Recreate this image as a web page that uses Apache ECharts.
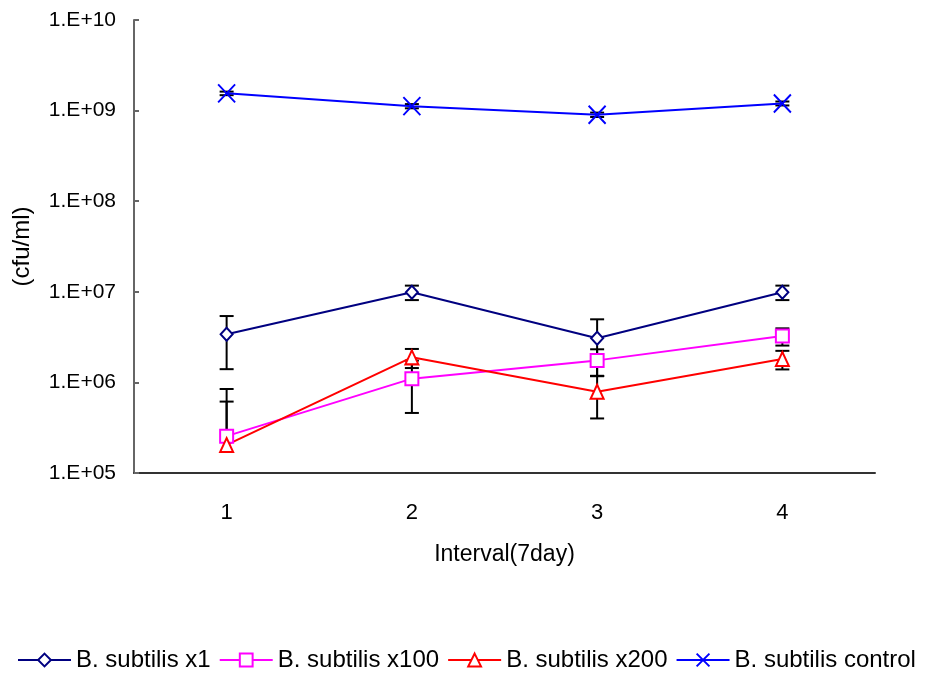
<!DOCTYPE html>
<html>
<head>
<meta charset="utf-8">
<script src="https://cdn.jsdelivr.net/npm/echarts@6/dist/echarts.min.js"></script>
<style>
  html, body { margin: 0; padding: 0; background: #fff; }
  #chart { width: 927px; height: 680px; }
</style>
</head>
<body>
<div id="chart"></div>
<script>
// 数据
var categories = ["1", "2", "3", "4"];
var x1 = [3.4e6, 9.9e6, 3.07e6, 9.9e6];
var x1Err = [2.0e6, 1.8e6, 1.9e6, 1.8e6];
var x100 = [2.55e5, 1.1e6, 1.75e6, 3.25e6];
var x100Err = [5.9e5, 6.4e5, 5.7e5, 7.0e5];
var x200 = [2.04e5, 1.89e6, 7.9e5, 1.81e6];
var x200Err = [4.1e5, 4.5e5, 3.9e5, 4.2e5];
var control = [1.55e9, 1.12e9, 0.9e9, 1.2e9];
var controlErr = [0.07e9, 0.06e9, 0.05e9, 0.06e9];

var FONT = "'Liberation Sans', Arial, sans-serif";

function errData(vals, errs) {
  return vals.map(function (v, i) {
    return [i, v, v - errs[i], v + errs[i]];
  });
}

// 误差线
function renderErr(params, api) {
  var x = api.value(0);
  var hi = api.coord([x, api.value(3)]);
  var mid = api.coord([x, api.value(1)]);
  var lowVal = api.value(2);
  var cap = 7;
  var style = { stroke: "#000", lineWidth: 2 };
  var children = [
    { type: "line", shape: { x1: hi[0], y1: hi[1], x2: mid[0], y2: mid[1] }, style: style },
    { type: "line", shape: { x1: hi[0] - cap, y1: hi[1], x2: hi[0] + cap, y2: hi[1] }, style: style }
  ];
  if (lowVal > 0) {
    var lo = api.coord([x, lowVal]);
    children.push({ type: "line", shape: { x1: mid[0], y1: mid[1], x2: lo[0], y2: lo[1] }, style: style });
    children.push({ type: "line", shape: { x1: lo[0] - cap, y1: lo[1], x2: lo[0] + cap, y2: lo[1] }, style: style });
  }
  return { type: "group", children: children };
}

function errSeries(vals, errs) {
  return {
    type: "custom",
    renderItem: renderErr,
    data: errData(vals, errs),
    encode: { x: 0, y: [2, 3] },
    z: 1,
    silent: true,
    legendHoverLink: false
  };
}

function lineSeries(name, data, color, symbol, size) {
  return {
    name: name,
    type: "line",
    data: data,
    color: color,
    symbol: symbol,
    symbolSize: size,
    showAllSymbol: true,
    lineStyle: { color: color, width: 2 },
    itemStyle: { color: "#fff", borderColor: color, borderWidth: 2 },
    z: 3
  };
}

var chart = echarts.init(document.getElementById("chart"));
var ctrl = lineSeries("B. subtilis control", control, "#0000FF", "path://M0,0L10,10M10,0L0,10", [17, 18]);
ctrl.itemStyle = { color: "none", borderColor: "#0000FF", borderWidth: 2 };

chart.setOption({
  backgroundColor: "#fff",
  animation: false,
  textStyle: { fontFamily: FONT },
  grid: { left: 134, right: 52, top: 20, bottom: 207, outerBoundsMode: "none", containLabel: false },
  legend: {
    bottom: 3,
    left: 12,
    itemWidth: 53,
    itemHeight: 16,
    itemGap: 8,
    textStyle: { fontFamily: FONT, fontSize: 24, color: "#000" },
    data: ["B. subtilis x1", "B. subtilis x100", "B. subtilis x200", "B. subtilis control"]
  },
  xAxis: {
    type: "category",
    data: categories,
    boundaryGap: true,
    name: "Interval(7day)",
    nameLocation: "middle",
    nameGap: 70,
    nameTextStyle: { fontFamily: FONT, fontSize: 23, color: "#000" },
    axisLine: { lineStyle: { color: "#333", width: 2 } },
    axisTick: { inside: true, length: 7, lineStyle: { color: "#333", width: 2 } },
    axisLabel: { margin: 29, fontSize: 22, color: "#000", fontFamily: FONT },
    splitLine: { show: false }
  },
  yAxis: {
    type: "log",
    logBase: 10,
    min: 1e5,
    max: 1e10,
    name: "(cfu/ml)",
    nameLocation: "middle",
    nameRotate: 90,
    nameGap: 100,
    nameTextStyle: { fontFamily: FONT, fontSize: 24, color: "#000" },
    axisLine: { show: true, lineStyle: { color: "#666", width: 2 } },
    axisTick: { show: true, inside: true, length: 5, lineStyle: { color: "#666", width: 2 } },
    axisLabel: {
      margin: 18,
      fontSize: 21,
      color: "#000",
      fontFamily: FONT,
      formatter: function (v) {
        var e = Math.round(Math.log10(v));
        return "1.E+" + (e < 10 ? "0" + e : e);
      }
    },
    splitLine: { show: false }
  },
  series: [
    errSeries(x1, x1Err),
    errSeries(x100, x100Err),
    errSeries(x200, x200Err),
    errSeries(control, controlErr),
    lineSeries("B. subtilis x1", x1, "#000080", "diamond", [12, 13]),
    lineSeries("B. subtilis x100", x100, "#FF00FF", "rect", 13),
    lineSeries("B. subtilis x200", x200, "#FF0000", "triangle", [13, 14]),
    ctrl
  ]
});
</script>
</body>
</html>
